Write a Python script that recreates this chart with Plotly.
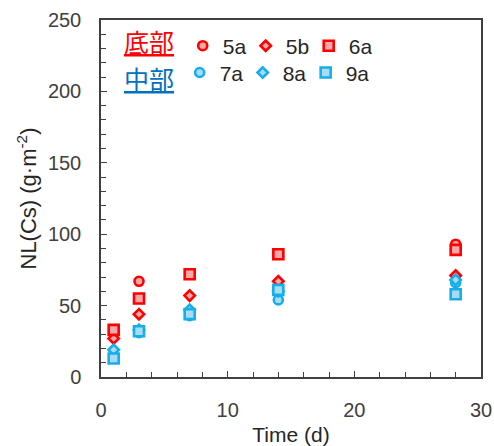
import plotly.graph_objects as go

# ---- data ----
days = [1, 3, 7, 14, 28]
nl_5a = [31, 67, None, 86, 93]
nl_5b = [27, 44, 57, 67, 71]
nl_6a = [33, 55, 72, 86, 89]
nl_7a = [14, 31, 43, 54, 66]
nl_8a = [19, 33, 47, 60, 68]
nl_9a = [13, 32, 44, 61, 58]

RED = "#FF0000"
RED_FILL = "#F6A9A9"
BLUE = "#16AEEA"
BLUE_FILL = "#A6DCF4"

series = [
    ("5a", nl_5a, "circle", 9, RED, RED_FILL, "legend"),
    ("5b", nl_5b, "diamond", 8, RED, RED_FILL, "legend"),
    ("6a", nl_6a, "square", 10, RED, RED_FILL, "legend"),
    ("7a", nl_7a, "circle", 9, BLUE, BLUE_FILL, "legend2"),
    ("8a", nl_8a, "diamond", 8, BLUE, BLUE_FILL, "legend2"),
    ("9a", nl_9a, "square", 10, BLUE, BLUE_FILL, "legend2"),
]

fig = go.Figure()
for name, vals, sym, size, lc, fc, lg in series:
    fig.add_trace(go.Scatter(
        x=days, y=vals, mode="markers", name=name, legend=lg,
        marker=dict(symbol=sym, size=size, color=fc,
                    line=dict(color=lc, width=2.6)),
    ))

FONT = "Liberation Sans, Arial, sans-serif"
axis_common = dict(
    showline=True, linecolor="#404040", linewidth=1.5, mirror=True,
    ticks="inside", ticklen=6, tickwidth=1, tickcolor="#404040",
    showgrid=False, zeroline=False, automargin=False,
    tickfont=dict(family=FONT, size=20, color="#404040"),
)

fig.update_layout(
    width=494, height=446,
    margin=dict(l=101, r=13, t=20, b=69, autoexpand=False),
    paper_bgcolor="white", plot_bgcolor="white",
    xaxis=dict(
        range=[0, 30], tickvals=[0, 10, 20, 30],
        minor=dict(dtick=2, ticks="inside", ticklen=5, tickcolor="#404040"),
        title=dict(text="Time (d)", font=dict(family=FONT, size=21, color="#262626"),
                   standoff=12),
        ticklabelstandoff=14,
        **axis_common,
    ),
    yaxis=dict(
        range=[0, 250], tickvals=[0, 50, 100, 150, 200, 250],
        minor=dict(dtick=10, ticks="inside", ticklen=5, tickcolor="#404040"),
        title=dict(text="NL(Cs) (g·m<sup>-2</sup>)",
                   font=dict(family=FONT, size=22, color="#262626"), standoff=5),
        ticklabelstandoff=14,
        **axis_common,
    ),
    legend=dict(
        orientation="h", x=0.215, y=0.927, xanchor="left", yanchor="middle",
        entrywidth=18, entrywidthmode="pixels", bgcolor="rgba(0,0,0,0)",
        font=dict(family=FONT, size=21, color="#262626"),
    ),
    legend2=dict(
        orientation="h", x=0.207, y=0.852, xanchor="left", yanchor="middle",
        entrywidth=18, entrywidthmode="pixels", bgcolor="rgba(0,0,0,0)",
        font=dict(family=FONT, size=21, color="#262626"),
    ),
    annotations=[
        dict(text="<u>底部</u>", x=0.055, y=0.942, xref="paper", yref="paper",
             xanchor="left", yanchor="middle", showarrow=False,
             font=dict(family="Noto Sans CJK JP", size=25, color=RED)),
        dict(text="<u>中部</u>", x=0.055, y=0.838, xref="paper", yref="paper",
             xanchor="left", yanchor="middle", showarrow=False,
             font=dict(family="Noto Sans CJK JP", size=25, color="#0070C0")),
    ],
)

fig.write_html("out.html", config={"displayModeBar": False},
               post_script="document.body.style.margin='0';")
